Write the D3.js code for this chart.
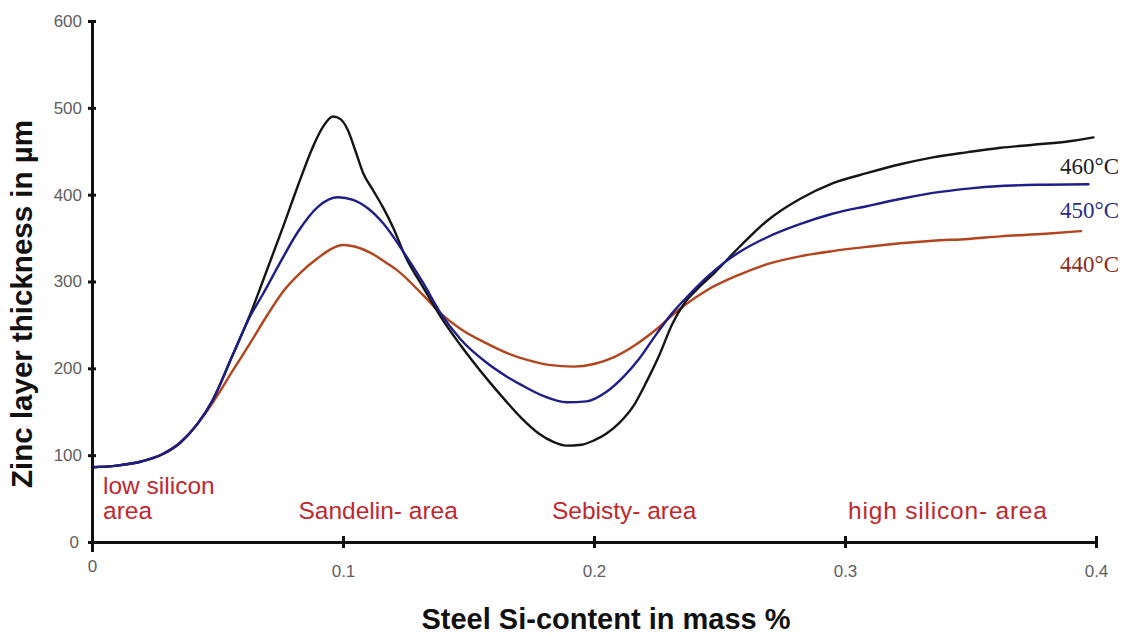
<!DOCTYPE html>
<html>
<head>
<meta charset="utf-8">
<script src="https://cdn.jsdelivr.net/npm/d3@7"></script>
<style>
  html, body { margin: 0; padding: 0; background: #fff; }
  svg { display: block; }
</style>
</head>
<body>
<svg id="chart" width="1123" height="635"></svg>
<script>
// ---- data ----
const xTicks = [0, 0.1, 0.2, 0.3, 0.4];
const yTicks = [0, 100, 200, 300, 400, 500, 600];

const si460 = [0, 0.010, 0.020, 0.028, 0.035, 0.042, 0.048, 0.056, 0.063, 0.068, 0.076, 0.082, 0.088, 0.092, 0.096, 0.099, 0.102, 0.105, 0.108, 0.112, 0.116, 0.120, 0.125, 0.132, 0.139, 0.147, 0.157, 0.165, 0.171, 0.178, 0.184, 0.189, 0.195, 0.200, 0.205, 0.210, 0.216, 0.221, 0.226, 0.231, 0.236, 0.241, 0.248, 0.258, 0.269, 0.282, 0.295, 0.309, 0.322, 0.335, 0.349, 0.362, 0.375, 0.388, 0.399];
const zn460 = [86, 88, 93, 101, 114, 136, 163, 215, 262, 300, 362, 410, 455, 478, 490, 487, 474, 450, 425, 405, 385, 362, 328, 293, 259, 226, 189, 162, 143, 125, 115, 111, 112, 117, 125, 137, 158, 185, 215, 250, 275, 291, 310, 340, 370, 395, 413, 425, 435, 443, 449, 454, 457.5, 461, 466];

const si450 = [0, 0.010, 0.020, 0.028, 0.035, 0.042, 0.048, 0.056, 0.063, 0.068, 0.075, 0.082, 0.090, 0.098, 0.104, 0.110, 0.116, 0.125, 0.132, 0.139, 0.147, 0.157, 0.165, 0.171, 0.180, 0.189, 0.197, 0.205, 0.212, 0.218, 0.225, 0.231, 0.238, 0.245, 0.252, 0.258, 0.269, 0.282, 0.295, 0.309, 0.322, 0.335, 0.349, 0.362, 0.380, 0.397];
const zn450 = [86, 88, 93, 101, 114, 136, 163, 215, 260, 285, 322, 357, 386, 397, 394, 384, 367, 330, 298, 263, 233, 207, 191, 181, 168, 161, 162, 173, 191, 211, 240, 263, 285, 305, 322, 334, 351, 366, 378, 387, 395, 402, 407, 410, 411.5, 412];

const si440 = [0, 0.010, 0.020, 0.028, 0.035, 0.042, 0.048, 0.056, 0.063, 0.070, 0.076, 0.083, 0.090, 0.095, 0.100, 0.105, 0.111, 0.117, 0.122, 0.132, 0.139, 0.147, 0.157, 0.165, 0.173, 0.182, 0.192, 0.200, 0.208, 0.216, 0.224, 0.234, 0.245, 0.258, 0.269, 0.282, 0.295, 0.309, 0.322, 0.335, 0.349, 0.362, 0.380, 0.394];
const zn440 = [86, 88, 93, 101, 114, 136, 160, 197, 229, 262, 288, 310, 327, 337, 342, 340, 333, 322, 312, 284, 263, 245, 229, 218, 210, 204, 202, 205, 213, 226, 243, 268, 290, 308, 320, 329, 335, 340, 344, 347, 349, 352, 355, 358];

const seriesNames = ["440°C", "450°C", "460°C"];
const areaNames = ["Sandelin- area", "Sebisty- area", "high silicon- area"];
const areaCenters = [0.114, 0.212, 0.341];
const lowAreaLines = ["low silicon", "area"];

// ---- layout ----
const svg = d3.select("#chart");
const sans = "'Liberation Sans', Arial, Helvetica, sans-serif";
const serif = "'Liberation Serif', 'Times New Roman', serif";

const x = d3.scaleLinear().domain([0, 0.4]).range([92, 1096]);
const y = d3.scaleLinear().domain([0, 600]).range([542, 21]);

svg.append("rect").attr("width", 1123).attr("height", 635).attr("fill", "#fff");

// curves
const line = d3.line()
  .x(d => x(d[0])).y(d => y(d[1]))
  .curve(d3.curveMonotoneX);

const series = [
  { xs: si440, ys: zn440, color: "#b3441e" },
  { xs: si460, ys: zn460, color: "#151515" },
  { xs: si450, ys: zn450, color: "#1e1e88" }
];
series.forEach(s => {
  svg.append("path")
    .datum(s.xs.map((v, i) => [v, s.ys[i]]))
    .attr("fill", "none")
    .attr("stroke", s.color)
    .attr("stroke-width", 2.4)
    .attr("stroke-linejoin", "round")
    .attr("stroke-linecap", "round")
    .attr("d", line);
});

// y axis
const gy = svg.append("g").attr("transform", "translate(92,0)")
  .call(d3.axisLeft(y).tickValues(yTicks).tickSizeInner(4).tickSizeOuter(0).tickFormat(d3.format("d")));
gy.select(".domain").attr("stroke", "#111").attr("stroke-width", 3);
gy.selectAll(".tick line").attr("x1", -4).attr("x2", 4).attr("stroke", "#111").attr("stroke-width", 3);
gy.selectAll(".tick text")
  .attr("x", d => d === 0 ? -13 : -10)
  .attr("font-family", sans).attr("font-size", 17).attr("fill", "#606060");

// x axis
const gx = svg.append("g").attr("transform", "translate(0,542)")
  .call(d3.axisBottom(x).tickValues(xTicks).tickSizeOuter(0)
    .tickFormat(d => d === 0 ? "0" : d3.format(".1f")(d)));
gx.select(".domain").attr("stroke", "#111").attr("stroke-width", 3);
gx.selectAll(".tick line")
  .attr("y1", -6).attr("y2", d => d === 0 ? 10 : 6)
  .attr("stroke", "#111").attr("stroke-width", 3);
gx.selectAll(".tick text")
  .attr("dy", 0).attr("y", d => d === 0 ? 30 : 35)
  .attr("font-family", sans).attr("font-size", 17).attr("fill", "#606060");

// axis titles
svg.append("text")
  .attr("x", 606).attr("y", 629)
  .attr("text-anchor", "middle")
  .attr("font-family", sans).attr("font-weight", "bold").attr("font-size", 29)
  .attr("fill", "#111")
  .text("Steel Si-content in mass %");

svg.append("text")
  .attr("transform", "translate(32,304) rotate(-90)")
  .attr("text-anchor", "middle")
  .attr("font-family", sans).attr("font-weight", "bold").attr("font-size", 29.5)
  .attr("fill", "#111")
  .text("Zinc layer thickness in µm");

// region labels
const areaColor = "#c2272f";
lowAreaLines.forEach((t, i) => {
  svg.append("text")
    .attr("x", 103).attr("y", 494 + i * 24.5)
    .attr("font-family", sans).attr("font-size", 24.5).attr("fill", areaColor)
    .text(t);
});
areaNames.forEach((t, i) => {
  svg.append("text")
    .attr("x", x(areaCenters[i])).attr("y", 519)
    .attr("text-anchor", "middle")
    .attr("font-family", sans).attr("font-size", 24.5).attr("fill", areaColor)
    .attr("letter-spacing", i === 2 ? 0.8 : 0)
    .text(t);
});

// series labels
const labelColors = ["#8c2a20", "#2c2c88", "#222222"];
const labelY = [272, 218, 174];
seriesNames.forEach((t, i) => {
  svg.append("text")
    .attr("x", 1060).attr("y", labelY[i])
    .attr("font-family", serif).attr("font-size", 23).attr("fill", labelColors[i])
    .text(t);
});
</script>
</body>
</html>
